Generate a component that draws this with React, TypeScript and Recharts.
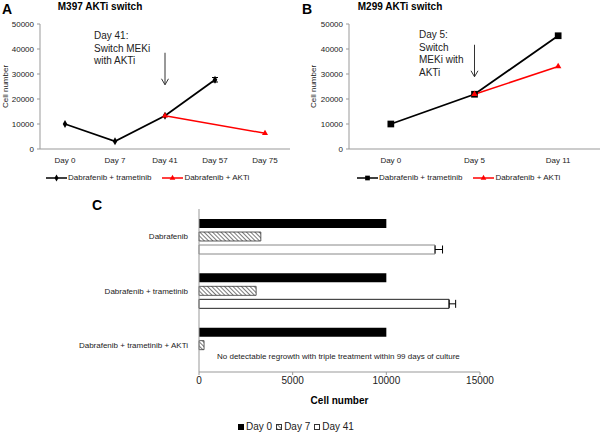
import React from 'react';
import {
  LineChart,
  Line,
  BarChart,
  Bar,
  Cell,
  XAxis,
  YAxis,
  ErrorBar,
  ReferenceLine,
  Symbols,
} from 'recharts';

// Panel A: M397
const daysA = ['Day 0', 'Day 7', 'Day 41', 'Day 57', 'Day 75'];
const dabTramA = [10000, 3100, 13300, 27700, null];
const dabTramErrA = [null, null, null, 900, null];
const dabAktiA = [null, null, 13300, null, 6300];

// Panel B: M299
const daysB = ['Day 0', 'Day 5', 'Day 11'];
const dabTramB = [10000, 21900, 45300];
const dabAktiB = [null, 21900, 33000];

const cellTicks = [0, 10000, 20000, 30000, 40000, 50000];

// Panel C: regrowth
const treatments = ['Dabrafenib', 'Dabrafenib + trametinib', 'Dabrafenib + trametinib + AKTi'];
const day0 = [10000, 10000, 10000];
const day7 = [3300, 3050, 270];
const day41 = [12600, 13350, null];
const day41Err = [400, 350, null];
const day41Stroke = ['#888', '#222', '#222'];
const countTicks = [0, 5000, 10000, 15000];

const dataA = daysA.map((d, i) => ({ day: d, dt: dabTramA[i], err: dabTramErrA[i], da: dabAktiA[i] }));
const dataB = daysB.map((d, i) => ({ day: d, dt: dabTramB[i], da: dabAktiB[i] }));
// only the upper whisker shows in the original, the lower half sits inside the bar
const dataC = treatments.map((t, i) => ({
  name: t,
  d0: day0[i],
  d7: day7[i],
  d41: day41[i],
  err: day41Err[i] == null ? null : [0, day41Err[i]],
}));

const FONT = '"Liberation Sans", Arial, sans-serif';

const dotOf = (type: 'diamond' | 'square' | 'triangle', size: number, fill: string) => (p: any) =>
  p.value == null || p.cx == null ? (
    <g key={`n-${p.index}`} />
  ) : (
    <Symbols key={`s-${p.index}`} cx={p.cx} cy={p.cy} type={type} size={size} fill={fill} stroke="none" />
  );

function LegendIcon({ color, type }: { color: string; type: 'diamond' | 'square' | 'triangle' }) {
  const size = type === 'square' ? 22 : 14;
  return (
    <svg width={21} height={8} style={{ display: 'block' }}>
      <line x1={0} y1={4} x2={21} y2={4} stroke={color} strokeWidth={1.5} />
      <Symbols cx={10.5} cy={4} type={type} size={size} fill={color} />
    </svg>
  );
}

function LineLegend({ left, marker }: { left: number; marker: 'diamond' | 'square' }) {
  return (
    <div
      style={{
        position: 'absolute',
        left,
        top: 173,
        display: 'flex',
        alignItems: 'center',
        fontSize: 8,
        fontFamily: FONT,
        color: '#222',
        whiteSpace: 'nowrap',
      }}
    >
      <LegendIcon color="#000" type={marker} />
      <span style={{ marginLeft: 1, marginRight: 11 }}>Dabrafenib + trametinib</span>
      <LegendIcon color="#ff0000" type="triangle" />
      <span style={{ marginLeft: 1 }}>Dabrafenib + AKTi</span>
    </div>
  );
}

const axisTick = { fontSize: 8, fill: '#222', fontFamily: FONT };

const categoryTick = (p: any) => (
  <text x={p.x} y={p.y} dy={3} textAnchor="end" fontSize={8} fill="#222" fontFamily={FONT}>
    {p.payload.value}
  </text>
);

export default function App() {
  const abs = (left: number, top: number): React.CSSProperties => ({ position: 'absolute', left, top });
  return (
    <div
      style={{
        position: 'absolute',
        left: 0,
        top: 0,
        width: 600,
        height: 433,
        background: '#fff',
        fontFamily: FONT,
        overflow: 'hidden',
      }}
    >
      <svg width={0} height={0} style={{ position: 'absolute' }}>
        <defs>
          <pattern id="hatch" width="3" height="3" patternUnits="userSpaceOnUse" patternTransform="rotate(-45)">
            <rect width="3" height="3" fill="#fff" />
            <line x1="0" y1="0" x2="0" y2="3" stroke="#333" strokeWidth="1.3" />
          </pattern>
          <marker
            id="arrowHead"
            markerWidth="8"
            markerHeight="9"
            refX="6.5"
            refY="4"
            orient="auto"
            markerUnits="userSpaceOnUse"
          >
            <path d="M0.5,0.5 L6.5,4 L0.5,7.5" fill="none" stroke="#333" strokeWidth="1" />
          </marker>
        </defs>
      </svg>

      {/* Panel A */}
      <div style={{ ...abs(2, 1), fontSize: 14, fontWeight: 'bold' }}>A</div>
      <div style={{ ...abs(55, 1), width: 90, textAlign: 'center', fontSize: 10, fontWeight: 'bold' }}>
        M397 AKTi switch
      </div>
      <div style={abs(0, 0)}>
        <LineChart width={300} height={175} data={dataA} margin={{ top: 24, right: 10, left: 0, bottom: 0 }}>
          <XAxis
            dataKey="day"
            scale="band"
            height={26}
            tickLine={false}
            stroke="#999"
            tick={axisTick}
            tickMargin={2}
            interval={0}
          />
          <YAxis
            width={40}
            domain={[0, 50000]}
            ticks={cellTicks}
            tickSize={3}
            tickMargin={3}
            stroke="#999"
            tick={axisTick}
            label={{
              value: 'Cell number',
              angle: -90,
              position: 'insideLeft',
              offset: 5,
              style: { textAnchor: 'middle', fontSize: 8, fill: '#222', fontFamily: FONT },
            }}
          />
          <ReferenceLine
            segment={[
              { x: 'Day 41', y: 38500 },
              { x: 'Day 41', y: 25700 },
            ]}
            stroke="#333"
            strokeWidth={1}
            markerEnd="url(#arrowHead)"
          />
          <Line
            dataKey="dt"
            stroke="#000"
            strokeWidth={1.8}
            dot={dotOf('diamond', 18, '#000')}
            isAnimationActive={false}
          >
            <ErrorBar dataKey="err" direction="y" width={3} stroke="#000" strokeWidth={1} />
          </Line>
          <Line
            dataKey="da"
            stroke="#ff0000"
            strokeWidth={1.5}
            connectNulls
            dot={dotOf('triangle', 16, '#ff0000')}
            isAnimationActive={false}
          />
        </LineChart>
      </div>
      <div style={{ ...abs(94, 30), fontSize: 10, lineHeight: '12.5px', color: '#222' }}>
        Day 41:
        <br />
        Switch MEKi
        <br />
        with AKTi
      </div>
      <LineLegend left={46} marker="diamond" />

      {/* Panel B */}
      <div style={{ ...abs(302, 1), fontSize: 14, fontWeight: 'bold' }}>B</div>
      <div style={{ ...abs(355, 1), width: 90, textAlign: 'center', fontSize: 10, fontWeight: 'bold' }}>
        M299 AKTi switch
      </div>
      <div style={abs(300, 0)}>
        <LineChart width={300} height={175} data={dataB} margin={{ top: 24, right: 0, left: 0, bottom: 0 }}>
          <XAxis
            dataKey="day"
            scale="band"
            height={26}
            tickLine={false}
            stroke="#999"
            tick={axisTick}
            tickMargin={2}
            interval={0}
          />
          <YAxis
            width={49}
            domain={[0, 50000]}
            ticks={cellTicks}
            tickSize={3}
            tickMargin={3}
            stroke="#999"
            tick={axisTick}
            label={{
              value: 'Cell number',
              angle: -90,
              position: 'insideLeft',
              offset: 13,
              style: { textAnchor: 'middle', fontSize: 8, fill: '#222', fontFamily: FONT },
            }}
          />
          <ReferenceLine
            segment={[
              { x: 'Day 5', y: 41700 },
              { x: 'Day 5', y: 28900 },
            ]}
            stroke="#333"
            strokeWidth={1}
            markerEnd="url(#arrowHead)"
          />
          <Line
            dataKey="dt"
            stroke="#000"
            strokeWidth={1.8}
            dot={dotOf('square', 45, '#000')}
            isAnimationActive={false}
          />
          <Line
            dataKey="da"
            stroke="#ff0000"
            strokeWidth={1.5}
            connectNulls
            dot={dotOf('triangle', 18, '#ff0000')}
            isAnimationActive={false}
          />
        </LineChart>
      </div>
      <div style={{ ...abs(419, 29), fontSize: 10, lineHeight: '12.5px', color: '#222' }}>
        Day 5:
        <br />
        Switch
        <br />
        MEKi with
        <br />
        AKTi
      </div>
      <LineLegend left={357} marker="square" />

      {/* Panel C */}
      <div style={{ ...abs(92, 197), fontSize: 14, fontWeight: 'bold' }}>C</div>
      <div style={abs(0, 190)}>
        <BarChart
          layout="vertical"
          width={600}
          height={215}
          data={dataC}
          margin={{ top: 19, right: 120, left: 0, bottom: 0 }}
          barSize={9}
          barGap={4}
        >
          <XAxis
            type="number"
            domain={[0, 15000]}
            ticks={countTicks}
            height={33}
            tickSize={3}
            tickMargin={2}
            stroke="#999"
            tick={{ fontSize: 10, fill: '#222', fontFamily: FONT }}
            label={{
              value: 'Cell number',
              position: 'insideBottom',
              offset: 1,
              style: { fontSize: 10, fontWeight: 'bold', fill: '#000', fontFamily: FONT },
            }}
          />
          <YAxis
            type="category"
            dataKey="name"
            width={199}
            tickLine={false}
            tickMargin={5}
            stroke="#999"
            tick={categoryTick}
            interval={0}
          />
          <Bar dataKey="d0" fill="#000" isAnimationActive={false} />
          <Bar dataKey="d7" fill="url(#hatch)" stroke="#333" strokeWidth={0.8} isAnimationActive={false} />
          <Bar dataKey="d41" fill="#fff" strokeWidth={1} isAnimationActive={false}>
            {dataC.map((_e, i) => (
              <Cell key={`c-${i}`} stroke={day41Stroke[i]} />
            ))}
            <ErrorBar dataKey="err" direction="x" width={4} stroke="#000" strokeWidth={1} />
          </Bar>
        </BarChart>
      </div>
      <div style={{ ...abs(217, 352), width: 237, fontSize: 8, color: '#222', whiteSpace: 'nowrap' }}>
        No detectable regrowth with triple treatment within 99 days of culture
      </div>
      <div
        style={{
          ...abs(238, 421),
          display: 'flex',
          alignItems: 'center',
          fontSize: 10,
          color: '#222',
          whiteSpace: 'nowrap',
        }}
      >
        <svg width={6} height={6} style={{ marginRight: 2 }}>
          <rect x={0} y={0} width={6} height={6} fill="#000" />
        </svg>
        <span style={{ marginRight: 4 }}>Day 0</span>
        <svg width={6} height={6} style={{ marginRight: 2 }}>
          <rect x={0.5} y={0.5} width={5} height={5} fill="url(#hatch)" stroke="#333" strokeWidth={1} />
        </svg>
        <span style={{ marginRight: 4 }}>Day 7</span>
        <svg width={6} height={6} style={{ marginRight: 2 }}>
          <rect x={0.5} y={0.5} width={5} height={5} fill="#fff" stroke="#333" strokeWidth={1} />
        </svg>
        <span>Day 41</span>
      </div>
    </div>
  );
}
